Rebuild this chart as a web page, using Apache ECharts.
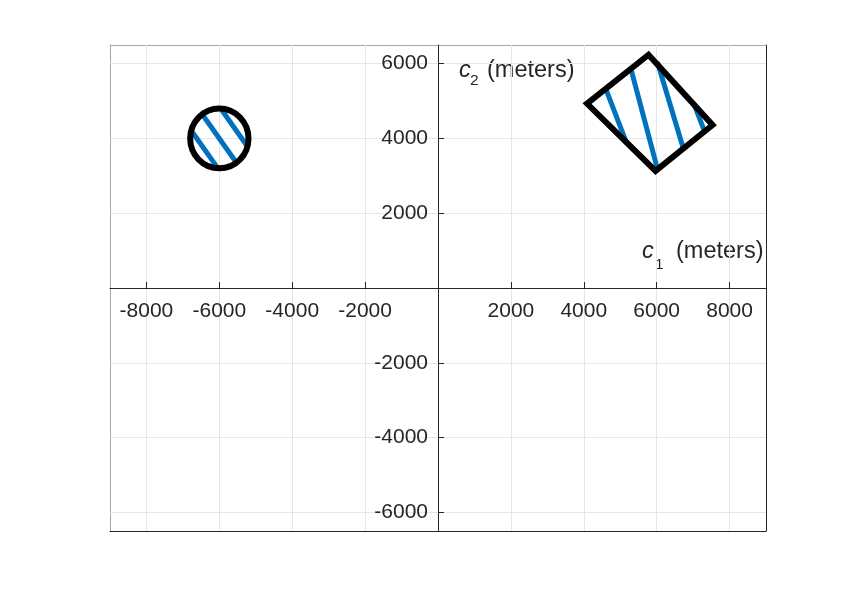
<!DOCTYPE html>
<html>
<head>
<meta charset="utf-8">
<script src="https://cdn.jsdelivr.net/npm/echarts@6/dist/echarts.min.js"></script>
<style>
  html, body { margin: 0; padding: 0; background: #fff; }
  #chart { width: 847px; height: 597px; }
</style>
</head>
<body>
<div id="chart"></div>
<script>
// axis ranges and ticks
const xMin = -9000
const xMax = 9000
const yMin = -6500
const yMax = 6500
const xTicks = [-8000, -6000, -4000, -2000, 0, 2000, 4000, 6000, 8000]
const yTicks = [-6000, -4000, -2000, 0, 2000, 4000, 6000]
const xLabels = [-8000, -6000, -4000, -2000, 2000, 4000, 6000, 8000]
const yLabels = [-6000, -4000, -2000, 2000, 4000, 6000]

// circle: center x, center y, radius
const circle = [[-6000, 4000, 800]]
const circleHatch = [
  [[-6753, 4187], [-6057, 3227]],
  [[-6446, 4615], [-5554, 3385]],
  [[-5943, 4773], [-5247, 3813]]
]

// rotated rectangle corners
const rectCorners = [[4089, 4933], [5777, 6240], [7533, 4360], [5969, 3133]]
const rectHatch = [
  [[4588, 5368], [5154, 3931]],
  [[5283, 5904], [6024, 3171]],
  [[6021, 6037], [6740, 3704]],
  [[7022, 4923], [7311, 4197]]
]

const font = 'Liberation Sans, Arial, Helvetica, sans-serif'
const dark = '#262626'
const gridColor = '#e6e6e6'
const blue = '#0072BD'

// plot box in pixels
const box = { left: 110, right: 81, top: 45, bottom: 66 }
const boxW = 847 - box.left - box.right
const boxH = 597 - box.top - box.bottom

const chart = echarts.init(document.getElementById('chart'), null, { renderer: 'canvas' })

function boxAxis(position, color) {
  const horiz = position === 'top' || position === 'bottom'
  return {
    type: 'value',
    position: position,
    min: horiz ? xMin : yMin,
    max: horiz ? xMax : yMax,
    axisLine: { show: true, onZero: false, lineStyle: { color: color, width: 1 } },
    axisTick: { show: false },
    axisLabel: { show: false },
    splitLine: { show: false }
  }
}

// the main axes cross at the origin: move them in from the box edge
const xShift = -boxH * (0 - yMin) / (yMax - yMin)
const yShift = -boxW * (0 - xMin) / (xMax - xMin)

chart.setOption({
  animation: false,
  backgroundColor: '#fff',
  grid: { left: box.left, right: box.right, top: box.top, bottom: box.bottom, show: false },
  xAxis: [
    {
      type: 'value',
      position: 'bottom',
      offset: xShift,
      min: xMin,
      max: xMax,
      axisLine: { show: true, onZero: false, lineStyle: { color: dark, width: 1 } },
      axisTick: { show: true, inside: true, length: 6, customValues: xTicks, lineStyle: { color: dark } },
      axisLabel: {
        customValues: xLabels,
        formatter: v => String(v),
        margin: 13,
        color: dark,
        fontSize: 21,
        fontFamily: font
      },
      splitLine: { show: true, lineStyle: { color: gridColor, width: 1 } },
      z: 5
    },
    boxAxis('top', '#a8a8a8'),
    boxAxis('bottom', dark)
  ],
  yAxis: [
    {
      type: 'value',
      position: 'left',
      offset: yShift,
      min: yMin,
      max: yMax,
      axisLine: { show: true, onZero: false, lineStyle: { color: dark, width: 1 } },
      axisTick: { show: true, inside: true, length: 6, customValues: yTicks, lineStyle: { color: dark } },
      axisLabel: {
        customValues: yLabels,
        formatter: v => String(v),
        margin: 10,
        color: dark,
        fontSize: 21,
        fontFamily: font
      },
      splitLine: { show: true, lineStyle: { color: gridColor, width: 1 } },
      z: 5
    },
    boxAxis('left', '#a8a8a8'),
    boxAxis('right', dark)
  ],
  graphic: [
    { type: 'text', left: 459, top: 58.5, style: { text: 'c', font: 'italic 23.5px ' + font, fill: dark } },
    { type: 'text', left: 470, top: 72.8, style: { text: '2', font: '15.5px ' + font, fill: dark } },
    { type: 'text', left: 487, top: 58.5, style: { text: '(meters)', font: '23.5px ' + font, fill: dark } },
    { type: 'text', left: 642, top: 239.5, style: { text: 'c', font: 'italic 23.5px ' + font, fill: dark } },
    { type: 'text', left: 655, top: 257, style: { text: '1', font: '15.5px ' + font, fill: dark } },
    { type: 'text', left: 676, top: 239.5, style: { text: '(meters)', font: '23.5px ' + font, fill: dark } }
  ],
  series: [
    {
      name: 'circle hatch',
      type: 'lines',
      coordinateSystem: 'cartesian2d',
      data: circleHatch.map(c => ({ coords: c })),
      lineStyle: { color: blue, width: 5, opacity: 1 },
      z: 10
    },
    {
      name: 'rect hatch',
      type: 'lines',
      coordinateSystem: 'cartesian2d',
      data: rectHatch.map(c => ({ coords: c })),
      lineStyle: { color: blue, width: 5, opacity: 1 },
      z: 10
    },
    {
      name: 'circle',
      type: 'custom',
      data: circle,
      encode: { x: 0, y: 1 },
      renderItem(params, api) {
        const c = api.coord([api.value(0), api.value(1)])
        const s = api.size([api.value(2), api.value(2)])
        return {
          type: 'ellipse',
          shape: { cx: c[0], cy: c[1], rx: s[0], ry: s[1] },
          style: { fill: 'none', stroke: '#000', lineWidth: 6 }
        }
      },
      z: 20
    },
    {
      name: 'rect',
      type: 'custom',
      data: rectCorners,
      encode: { x: 0, y: 1 },
      renderItem(params, api) {
        if (params.dataIndex !== 0) {
          return
        }
        const pts = rectCorners.map(p => api.coord(p))
        return {
          type: 'polygon',
          shape: { points: pts },
          style: { fill: 'none', stroke: '#000', lineWidth: 6, lineJoin: 'miter' }
        }
      },
      z: 20
    }
  ]
})
</script>
</body>
</html>
